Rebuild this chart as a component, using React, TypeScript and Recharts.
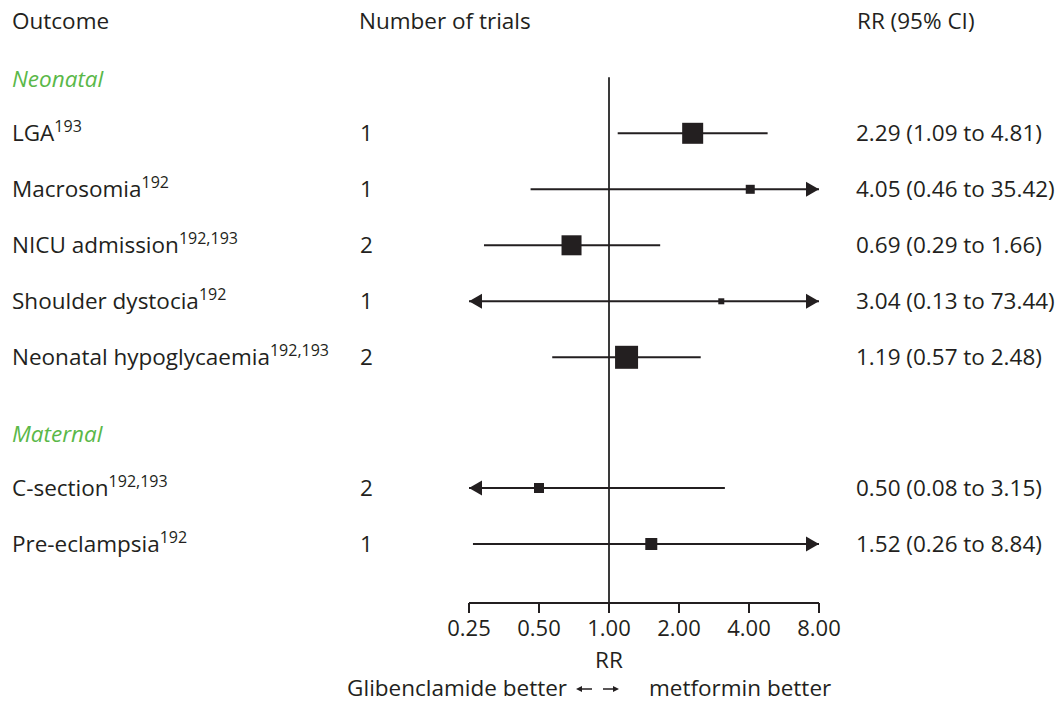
import React from 'react';
import { ScatterChart, Scatter, ErrorBar, XAxis, YAxis, ReferenceLine, Label } from 'recharts';

// ---------- data ----------
const groups = ['Neonatal', 'Maternal'];
const outcomes = ['LGA', 'Macrosomia', 'NICU admission', 'Shoulder dystocia', 'Neonatal hypoglycaemia', 'C-section', 'Pre-eclampsia'];
const refs = ['193', '192', '192,193', '192', '192,193', '192,193', '192'];
const outcomeGroup = [0, 0, 0, 0, 0, 1, 1];
const trials = [1, 1, 2, 1, 2, 2, 1];
const rr = [2.29, 4.05, 0.69, 3.04, 1.19, 0.5, 1.52];
const lower = [1.09, 0.46, 0.29, 0.13, 0.57, 0.08, 0.26];
const upper = [4.81, 35.42, 1.66, 73.44, 2.48, 3.15, 8.84];
const weights = [21, 9, 20, 6, 23, 10, 12]; // relative study weight (square size)
const xTicks = [0.25, 0.5, 1, 2, 4, 8];
const headers = ['Outcome', 'Number of trials', 'RR (95% CI)'];

// ---------- layout ----------
const X_MIN = 0.25;
const X_MAX = 8;
const FONT = '"Open Sans", "Noto Sans", sans-serif';
const INK = '#231f20';
const GREEN = '#5ab848';
const FS = 22.5;
const SUP = 16;
const GROUP_GAP = 1.334;
const SECTION_OFFSET = 0.966;
const HEADER_POS = -2;
const Y_MIN = -2.291;
const Y_MAX = Y_MIN + 598 / 56;
const COL_OUTCOME = 12;
const COL_TRIALS = 360;
const COL_RR = 856;

const itemPos: number[] = [];
{
  let p = 0;
  outcomes.forEach((_, i) => {
    if (i > 0 && outcomeGroup[i] !== outcomeGroup[i - 1]) p += GROUP_GAP;
    itemPos.push(p);
    p += 1;
  });
}

type Row = { kind: 'header' | 'section' | 'item'; pos: number; idx: number };
const rows: Row[] = [{ kind: 'header', pos: HEADER_POS, idx: 0 }];
outcomes.forEach((_, i) => {
  if (i === 0 || outcomeGroup[i] !== outcomeGroup[i - 1]) {
    rows.push({ kind: 'section', pos: itemPos[i] - SECTION_OFFSET, idx: outcomeGroup[i] });
  }
  rows.push({ kind: 'item', pos: itemPos[i], idx: i });
});
const rowTicks = rows.map((r) => r.pos);
const findRow = (v: number) => rows.find((r) => Math.abs(r.pos - v) < 1e-6);

const pointData = outcomes.map((_, i) => ({
  x: rr[i],
  y: itemPos[i],
  w: weights[i],
  err: [rr[i] - Math.max(lower[i], X_MIN), Math.min(upper[i], X_MAX) - rr[i]],
}));

const arrowData: { x: number; y: number; dir: string }[] = [];
outcomes.forEach((_, i) => {
  if (lower[i] < X_MIN) arrowData.push({ x: X_MIN, y: itemPos[i], dir: 'left' });
  if (upper[i] > X_MAX) arrowData.push({ x: X_MAX, y: itemPos[i], dir: 'right' });
});

const fmt = (v: number) => v.toFixed(2);

// ---------- renderers ----------
const Square = (props: any) => {
  const { cx, cy, payload } = props;
  const s = payload.w;
  return <rect x={cx - s / 2} y={cy - s / 2} width={s} height={s} fill={INK} />;
};

const Arrow = (props: any) => {
  const { cx, cy, payload } = props;
  const d = payload.dir === 'right' ? 1 : -1;
  const L = 13;
  const H = 7.5;
  return <path d={`M${cx},${cy} L${cx - d * L},${cy - H} L${cx - d * L},${cy + H} Z`} fill={INK} />;
};

const LeftTick = (props: any) => {
  const { y, payload } = props;
  const row = findRow(payload.value);
  if (!row) return null;
  const base = y + 8;
  if (row.kind === 'header') {
    return (
      <g fontFamily={FONT} fontSize={FS} fill={INK}>
        <text x={COL_OUTCOME} y={base}>{headers[0]}</text>
        <text x={COL_TRIALS - 1} y={base}>{headers[1]}</text>
      </g>
    );
  }
  if (row.kind === 'section') {
    return (
      <text x={COL_OUTCOME} y={base} fontFamily={FONT} fontSize={FS} fill={GREEN} fontStyle="italic">
        {groups[row.idx]}
      </text>
    );
  }
  const i = row.idx;
  return (
    <g fontFamily={FONT} fontSize={FS} fill={INK}>
      <text x={COL_OUTCOME} y={base}>
        {outcomes[i]}
        <tspan fontSize={SUP} dy={-9}>{refs[i]}</tspan>
      </text>
      <text x={COL_TRIALS} y={base}>{trials[i]}</text>
    </g>
  );
};

const RightTick = (props: any) => {
  const { y, payload } = props;
  const row = findRow(payload.value);
  if (!row) return null;
  const base = y + 8;
  if (row.kind === 'header') {
    return (
      <text x={COL_RR + 1} y={base} fontFamily={FONT} fontSize={FS} fill={INK}>{headers[2]}</text>
    );
  }
  if (row.kind !== 'item') return null;
  const i = row.idx;
  return (
    <text x={COL_RR} y={base} fontFamily={FONT} fontSize={FS} fill={INK}>
      {`${fmt(rr[i])} (${fmt(lower[i])} to ${fmt(upper[i])})`}
    </text>
  );
};

const AxisTitle = (props: any) => {
  const vb = props.viewBox || {};
  const frac = Math.log(1 / X_MIN) / Math.log(X_MAX / X_MIN);
  const cx = vb.x + vb.width * frac;
  const top = vb.y;
  const ay = top + 86;
  const by = top + 93;
  return (
    <g fontFamily={FONT} fontSize={FS} fill={INK}>
      <text x={cx} y={top + 65} textAnchor="middle">RR</text>
      <text x={cx - 42} y={by} textAnchor="end">Glibenclamide better</text>
      <line x1={cx - 17} y1={ay} x2={cx - 30} y2={ay} stroke={INK} strokeWidth={1.5} />
      <path d={`M${cx - 33},${ay} L${cx - 27},${ay - 3} L${cx - 27},${ay + 3} Z`} fill={INK} />
      <line x1={cx - 6} y1={ay} x2={cx + 7} y2={ay} stroke={INK} strokeWidth={1.5} />
      <path d={`M${cx + 10},${ay} L${cx + 4},${ay - 3} L${cx + 4},${ay + 3} Z`} fill={INK} />
      <text x={cx + 40} y={by}>metformin better</text>
    </g>
  );
};

export default function App() {
  return (
    <div style={{ position: 'absolute', left: 0, top: 0, background: '#fff' }}>
      <ScatterChart width={1059} height={702} margin={{ top: 5, right: 0, bottom: 0, left: 0 }}>
        <XAxis
          type="number"
          dataKey="x"
          scale="log"
          domain={[X_MIN, X_MAX]}
          ticks={xTicks}
          interval={0}
          allowDataOverflow
          height={99}
          tickSize={10}
          tickMargin={7}
          tickFormatter={fmt}
          axisLine={{ stroke: INK, strokeWidth: 2 }}
          tickLine={{ stroke: INK, strokeWidth: 2 }}
          tick={{ fill: INK, fontSize: 22, fontFamily: FONT }}
        >
          <Label content={<AxisTitle />} />
        </XAxis>
        <YAxis
          yAxisId="l"
          type="number"
          dataKey="y"
          domain={[Y_MIN, Y_MAX]}
          reversed
          allowDataOverflow
          ticks={rowTicks}
          interval={0}
          width={469}
          axisLine={false}
          tickLine={false}
          tick={(p: any) => <LeftTick {...p} />}
        />
        <YAxis
          yAxisId="r"
          orientation="right"
          type="number"
          dataKey="y"
          domain={[Y_MIN, Y_MAX]}
          reversed
          allowDataOverflow
          ticks={rowTicks}
          interval={0}
          width={240}
          axisLine={false}
          tickLine={false}
          tick={(p: any) => <RightTick {...p} />}
        />
        <ReferenceLine
          yAxisId="l"
          segment={[{ x: 1, y: -1 }, { x: 1, y: Y_MAX }]}
          stroke="#3a3a3a"
          strokeWidth={2}
        />
        <Scatter yAxisId="l" data={pointData} shape={Square} isAnimationActive={false}>
          <ErrorBar dataKey="err" direction="x" width={0} stroke={INK} strokeWidth={2} isAnimationActive={false} />
        </Scatter>
        <Scatter yAxisId="r" data={arrowData} shape={Arrow} isAnimationActive={false} />
      </ScatterChart>
    </div>
  );
}
